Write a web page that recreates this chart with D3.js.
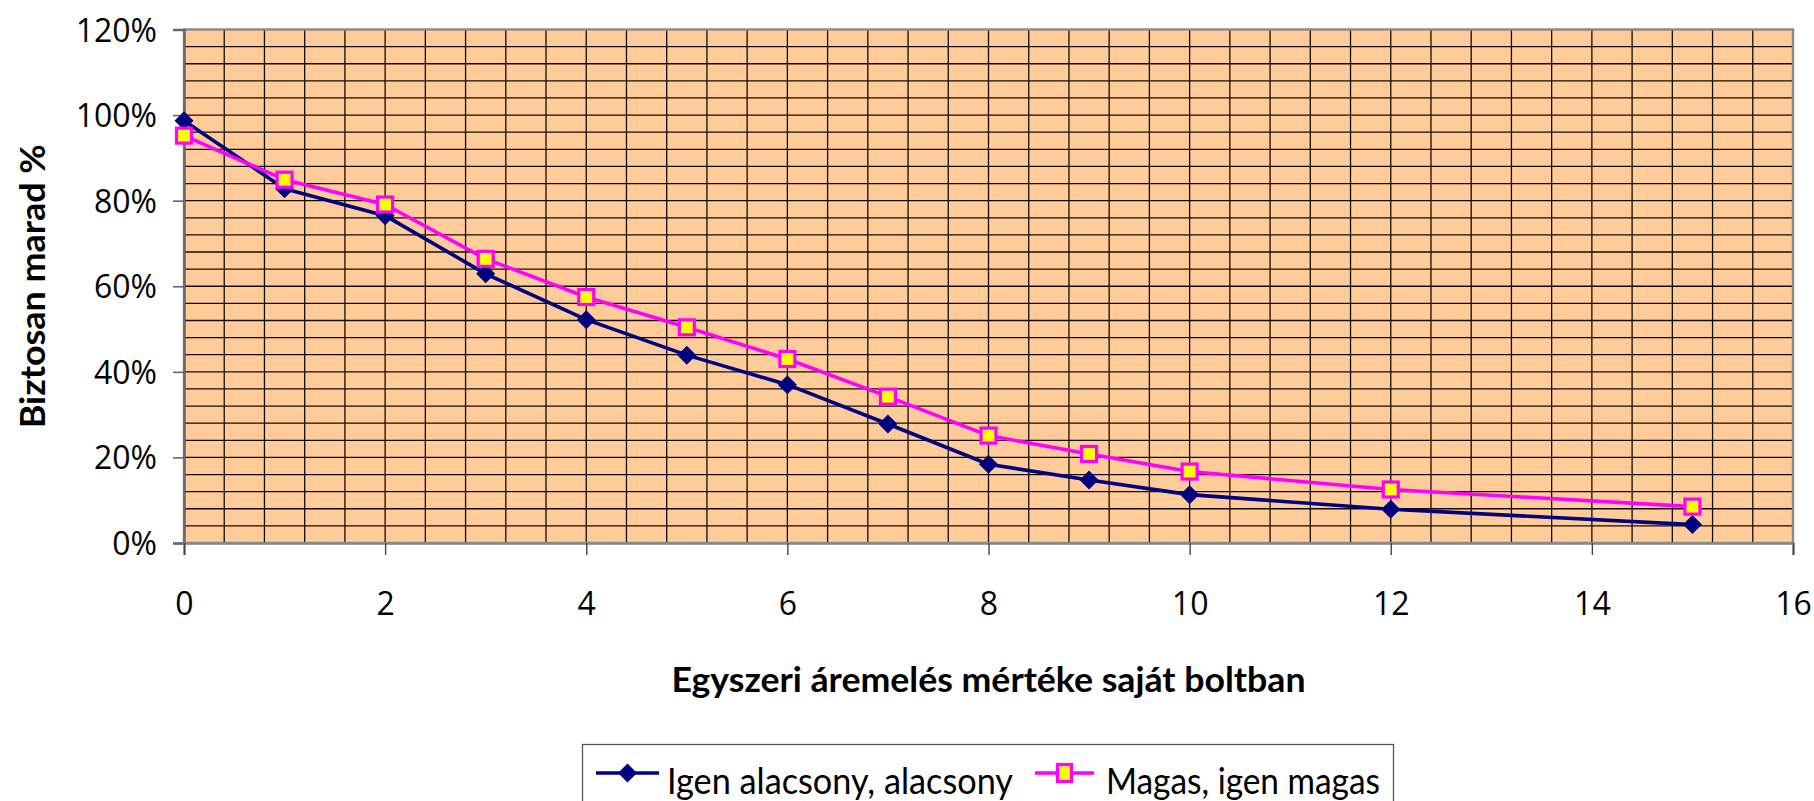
<!DOCTYPE html>
<html>
<head>
<meta charset="utf-8">
<script src="https://cdn.jsdelivr.net/npm/d3@7"></script>
<style>
  html, body { margin: 0; padding: 0; background: #ffffff; }
  svg { display: block; }
</style>
</head>
<body>
<svg id="chart" width="1814" height="801"></svg>
<script>
// Price increase in own shop (x) and share of customers who surely stay (y)
const priceRise = [0, 1, 2, 3, 4, 5, 6, 7, 8, 9, 10, 12, 15];
const lowShare  = [0.987, 0.828, 0.765, 0.629, 0.522, 0.439, 0.370, 0.278, 0.184, 0.147, 0.113, 0.079, 0.043];
const highShare = [0.952, 0.849, 0.791, 0.664, 0.575, 0.504, 0.430, 0.342, 0.251, 0.208, 0.167, 0.125, 0.085];
const seriesNames = ["Igen alacsony, alacsony", "Magas, igen magas"];
const xTicks = [0, 2, 4, 6, 8, 10, 12, 14, 16];
const yTicks = [0, 0.2, 0.4, 0.6, 0.8, 1.0, 1.2];
const xMinorStep = 0.4;
const yMinorStep = 0.04;
const xTitle = "Egyszeri áremelés mértéke saját boltban";
const yTitle = "Biztosan marad %";

const svg = d3.select("#chart");
const W = 1814, H = 801;
const plot = { left: 184, right: 1793, top: 29.5, bottom: 543 };

svg.append("rect").attr("width", W).attr("height", H).attr("fill", "#ffffff");

const x = d3.scaleLinear().domain([0, 16]).range([plot.left, plot.right]);
const y = d3.scaleLinear().domain([0, 1.2]).range([plot.bottom, plot.top]);

// plot background
svg.append("rect")
  .attr("x", plot.left).attr("y", plot.top)
  .attr("width", plot.right - plot.left).attr("height", plot.bottom - plot.top)
  .attr("fill", "#FFCC99");

// gridlines
const grid = svg.append("g").attr("stroke", "#120c06").attr("stroke-width", 1.3);
const xGrid = d3.range(1, Math.round(16 / xMinorStep)).map(i => i * xMinorStep);
const yGrid = d3.range(1, Math.round(1.2 / yMinorStep)).map(i => i * yMinorStep);
grid.selectAll("line.v").data(xGrid).join("line").attr("class", "v")
  .attr("x1", d => x(d)).attr("x2", d => x(d))
  .attr("y1", plot.top).attr("y2", plot.bottom);
grid.selectAll("line.h").data(yGrid).join("line").attr("class", "h")
  .attr("x1", plot.left).attr("x2", plot.right)
  .attr("y1", d => y(d)).attr("y2", d => y(d));

// plot frame
svg.append("rect")
  .attr("x", plot.left).attr("y", plot.top)
  .attr("width", plot.right - plot.left).attr("height", plot.bottom - plot.top)
  .attr("fill", "none").attr("stroke", "#888888").attr("stroke-width", 2.4);

const tickFont = "'Open Sans', 'DejaVu Sans', sans-serif";
const titleFont = "Lato, 'Open Sans', sans-serif";

// y axis
const yAxis = d3.axisLeft(y).tickValues(yTicks).tickFormat(d3.format(".0%"))
  .tickSize(11).tickPadding(16);
const gy = svg.append("g").attr("transform", `translate(${plot.left},0)`).call(yAxis);
gy.select(".domain").attr("stroke", "#666666").attr("stroke-width", 2.4);
gy.selectAll(".tick line").attr("stroke", "#666666").attr("stroke-width", 1.6);
gy.selectAll(".tick text").attr("fill", "#000").attr("font-family", tickFont)
  .attr("font-size", 32).attr("dy", "0.36em");

// x axis
const xAxis = d3.axisBottom(x).tickValues(xTicks).tickFormat(d3.format("d")).tickSize(12);
const gx = svg.append("g").attr("transform", `translate(0,${plot.bottom})`).call(xAxis);
gx.select(".domain").attr("stroke", "#888888").attr("stroke-width", 2.4);
gx.selectAll(".tick line").attr("stroke", "#444444").attr("stroke-width", 1.4);
gx.selectAll(".tick text").attr("fill", "#000").attr("font-family", tickFont)
  .attr("font-size", 32).attr("y", 72).attr("dy", 0);

// axis titles
svg.append("text")
  .attr("x", (plot.left + plot.right) / 2).attr("y", 692)
  .attr("text-anchor", "middle")
  .attr("font-family", titleFont).attr("font-weight", 700).attr("font-size", 34)
  .attr("textLength", 634).attr("lengthAdjust", "spacingAndGlyphs")
  .text(xTitle);

svg.append("text")
  .attr("transform", `translate(45,${(plot.top + plot.bottom) / 2}) rotate(-90)`)
  .attr("text-anchor", "middle")
  .attr("font-family", titleFont).attr("font-weight", 700).attr("font-size", 35)
  .attr("textLength", 284).attr("lengthAdjust", "spacingAndGlyphs")
  .text(yTitle);

// series
const diamond = r => `M0,${-r}L${r},0L0,${r}L${-r},0Z`;
const line = d3.line().x(d => x(d[0])).y(d => y(d[1]));
const lowPts = priceRise.map((v, i) => [v, lowShare[i]]);
const highPts = priceRise.map((v, i) => [v, highShare[i]]);

const navy = "#000080", magenta = "#FF00FF", yellow = "#FFFF00";
const lineW = 3.6, dR = 9.5, sq = 15, sqStroke = 3.2;

svg.append("path").datum(lowPts).attr("d", line)
  .attr("fill", "none").attr("stroke", navy).attr("stroke-width", lineW).attr("stroke-linejoin", "round");
svg.append("g").selectAll("path").data(lowPts).join("path")
  .attr("transform", d => `translate(${x(d[0])},${y(d[1])})`)
  .attr("d", diamond(dR)).attr("fill", navy);

svg.append("path").datum(highPts).attr("d", line)
  .attr("fill", "none").attr("stroke", magenta).attr("stroke-width", lineW).attr("stroke-linejoin", "round");
svg.append("g").selectAll("rect").data(highPts).join("rect")
  .attr("x", d => x(d[0]) - sq / 2).attr("y", d => y(d[1]) - sq / 2)
  .attr("width", sq).attr("height", sq)
  .attr("fill", yellow).attr("stroke", magenta).attr("stroke-width", sqStroke);

// legend
const lg = svg.append("g");
lg.append("rect").attr("x", 582.5).attr("y", 744.5).attr("width", 811).attr("height", 90)
  .attr("fill", "#ffffff").attr("stroke", "#555555").attr("stroke-width", 1.3);
const ly = 773;
lg.append("line").attr("x1", 596).attr("x2", 659).attr("y1", ly).attr("y2", ly)
  .attr("stroke", navy).attr("stroke-width", lineW);
lg.append("path").attr("transform", `translate(627.5,${ly})`).attr("d", diamond(dR)).attr("fill", navy);
lg.append("text").attr("x", 667).attr("y", 794)
  .attr("font-family", titleFont).attr("font-size", 36)
  .attr("textLength", 346).attr("lengthAdjust", "spacingAndGlyphs")
  .text(seriesNames[0]);

lg.append("line").attr("x1", 1035).attr("x2", 1094).attr("y1", ly).attr("y2", ly)
  .attr("stroke", magenta).attr("stroke-width", lineW);
lg.append("rect").attr("x", 1064.5 - 7).attr("y", ly - 8.5).attr("width", 14).attr("height", 17)
  .attr("fill", yellow).attr("stroke", magenta).attr("stroke-width", sqStroke);
lg.append("text").attr("x", 1106).attr("y", 794)
  .attr("font-family", titleFont).attr("font-size", 36)
  .attr("textLength", 274).attr("lengthAdjust", "spacingAndGlyphs")
  .text(seriesNames[1]);
</script>
</body>
</html>
